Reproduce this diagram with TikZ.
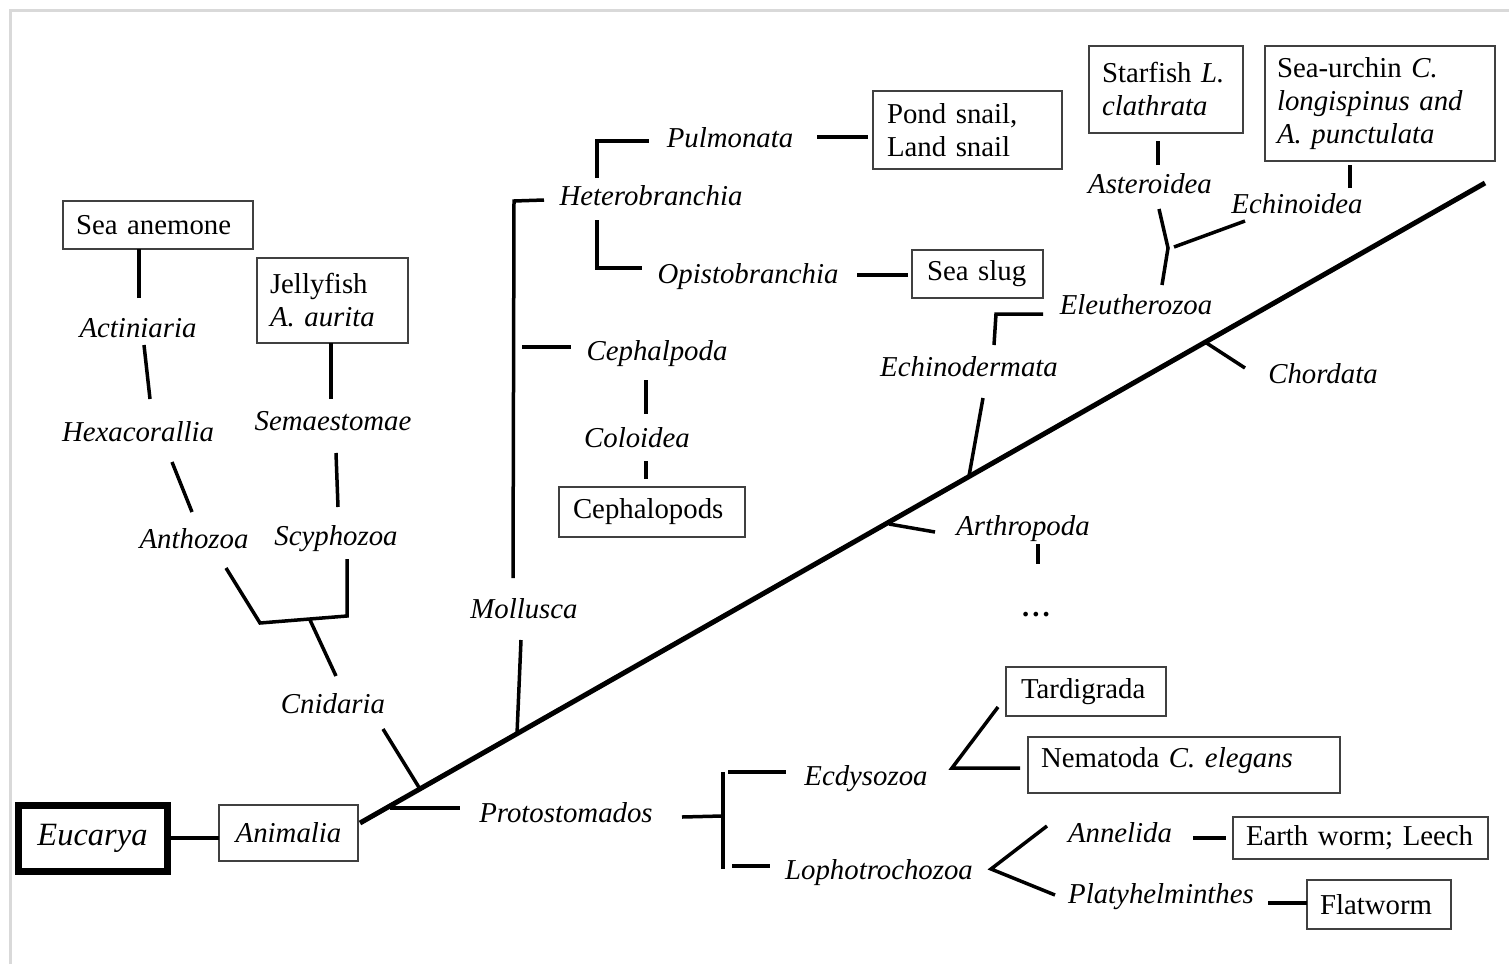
\documentclass[tikz,border=0pt]{standalone}
\usepackage{fontspec}
\setmainfont{Liberation Serif}
\begin{document}
\begin{tikzpicture}[x=1pt,y=-1pt,
  lab/.style={font=\fontsize{28.8}{33}\selectfont\itshape, inner sep=0pt, anchor=base, yshift=-10pt},
  box/.style={draw=black!75, line width=1.5pt, font=\fontsize{28.8}{33}\selectfont, align=left, anchor=north west, inner ysep=0pt, outer sep=0pt},
  con/.style={line width=3.5pt},
  trunk/.style={line width=5pt},
  frame/.style={draw=black!15, line width=3pt}]
\useasboundingbox (0,0) rectangle (1509,964);
\draw[frame] (10,964) -- (10,10) -- (1509,10);

% boxes
\node[box, draw=black, line width=7pt, minimum width=149pt, minimum height=66pt, inner sep=0pt, align=center, font=\fontsize{32.5}{36}\selectfont\itshape] (euc) at (18,805) {Eucarya};
\node[box, minimum width=139pt, minimum height=56pt, inner sep=0pt, align=center, font=\fontsize{28.8}{33}\selectfont\itshape] (ani) at (219,805) {Animalia};
\node[box, inner xsep=13pt, text width=164pt, minimum height=48pt] (anem) at (63,201) {Sea anemone};
\node[box, inner xsep=13pt, text width=125pt, minimum height=85pt] (jelly) at (257,258) {Jellyfish\\\textit{A. aurita}};
\node[box, inner xsep=14pt, text width=161pt, minimum height=78pt] (pond) at (873,91) {Pond snail,\\Land snail};
\node[box, inner xsep=15pt, text width=101pt, minimum height=48pt] (slug) at (912,250) {Sea slug};
\node[box, inner xsep=14pt, text width=158pt, minimum height=50pt] (cephs) at (559,487) {Cephalopods};
\node[box, inner xsep=13pt, text width=128pt, minimum height=87pt] (star) at (1089,46) {Starfish \textit{L.}\\\textit{clathrata}};
\node[box, inner xsep=12pt, text width=206pt, minimum height=115pt] (urchin) at (1265,46) {Sea-urchin \textit{C.}\\\textit{longispinus and}\\\textit{A. punctulata}};
\node[box, inner xsep=15pt, text width=130pt, minimum height=49pt] (tardi) at (1006,667) {Tardigrada};
\node[box, inner xsep=13pt, text width=286pt, minimum height=56pt, text depth=16pt] (nema) at (1028,737) {Nematoda \textit{C. elegans}};
\node[box, inner xsep=13pt, text width=229pt, minimum height=42pt] (earth) at (1233,817) {Earth worm; Leech};
\node[box, inner xsep=13pt, text width=118pt, minimum height=49pt] (flat) at (1307,880) {Flatworm};

% labels
\node[lab] (actin) at (138,327) {Actiniaria};
\node[lab] (hexa) at (138,431) {Hexacorallia};
\node[lab] (antho) at (194,538) {Anthozoa};
\node[lab] (scypho) at (336,535) {Scyphozoa};
\node[lab] (semae) at (333,420) {Semaestomae};
\node[lab] (cnid) at (333,703) {Cnidaria};
\node[lab] (proto) at (566,812) {Protostomados};
\node[lab] (moll) at (524,608) {Mollusca};
\node[lab] (hetero) at (651,195) {Heterobranchia};
\node[lab] (pulmo) at (730,137) {Pulmonata};
\node[lab] (opisto) at (748,273) {Opistobranchia};
\node[lab] (cephal) at (657,350) {Cephalpoda};
\node[lab] (colo) at (637,437) {Coloidea};
\node[lab] (echder) at (969,366) {Echinodermata};
\node[lab] (eleu) at (1136,304) {Eleutherozoa};
\node[lab] (aster) at (1150,183) {Asteroidea};
\node[lab] (echoid) at (1297,203) {Echinoidea};
\node[lab] (chord) at (1323,373) {Chordata};
\node[lab] (arthro) at (1023,525) {Arthropoda};
\node[lab, font=\fontsize{28.8}{33}\selectfont\bfseries] (dots) at (1036,606) {.\hspace{3pt}.\hspace{3pt}.};
\node[lab] (ecdy) at (866,775) {Ecdysozoa};
\node[lab] (lopho) at (879,869) {Lophotrochozoa};
\node[lab] (anne) at (1120,832) {Annelida};
\node[lab] (platy) at (1161,893) {Platyhelminthes};

% coordinates
\coordinate (t0) at (360,823);
\coordinate (t1) at (1485,183);
\coordinate (jCn) at (420,789);
\coordinate (jPr) at (390,808);
\coordinate (jMo) at (517,734);
\coordinate (jAr) at (889,524);
\coordinate (jEc) at (969,476);
\coordinate (jCh) at (1205,342);

% connectors
\draw[con] (euc.east |- 0,838) -- (ani.west |- 0,838);
\draw[trunk] (t0) -- (t1);
\draw[con] (jCn) -- (383,729);
\draw[con] (jPr) -- (460,808);
\draw[con] (336,676) -- (310,620);
\draw[con] (226,568) -- (260,623) -- (347,616) -- (347,559);
\draw[con] (192,512) -- (172,462);
\draw[con] (150,399) -- (144,345);
\coordinate (a1) at (139,298);
\draw[con] (a1) -- (a1 |- anem.south);
\draw[con] (338,507) -- (336,453);
\coordinate (s1) at (331,399);
\draw[con] (s1) -- (s1 |- jelly.south);

\draw[con] (jMo) -- (521,640);
\draw[con] (513,578) -- (514,201) -- (544,200);
\draw[con] (522,347) -- (571,347);
\draw[con] (597,178) -- (597,141) -- (649,141);
\draw[con] (597,220) -- (597,268) -- (642,268);
\draw[con] (817,137) -- (868,137);
\draw[con] (857,275) -- (908,275);
\draw[con] (646,380) -- (646,414);
\draw[con] (646,461) -- (646,479);

\draw[con] (jEc) -- (983,398);
\draw[con] (994,345) -- (996,314) -- (1043,314);
\draw[con] (1162,285) -- (1168,248) -- (1159,209);
\draw[con] (1174,247) -- (1245,221);
\draw[con] (1158,165) -- (1158,141);
\draw[con] (1350,188) -- (1350,165);
\draw[con] (jCh) -- (1245,368);
\draw[con] (jAr) -- (935,532);
\draw[con] (1038,544) -- (1038,564);

\draw[con] (682,817) -- (722,816);
\draw[con] (723,772) -- (723,869);
\draw[con] (728,772) -- (786,772);
\draw[con] (732,866) -- (770,866);
\draw[con] (998,707) -- (952,768) -- (1020,768);
\draw[con] (1047,826) -- (991,869) -- (1055,895);
\draw[con] (1193,838) -- (1226,838);
\draw[con] (1268,903) -- (flat.west |- 0,903);
\end{tikzpicture}
\end{document}
